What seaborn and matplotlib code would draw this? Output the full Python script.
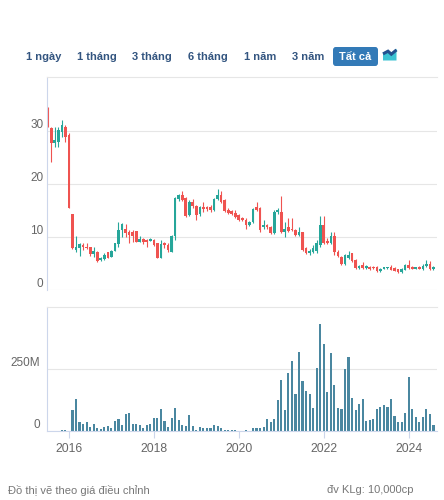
import numpy as np
import pandas as pd
import matplotlib
matplotlib.use("Agg")
import matplotlib.pyplot as plt
from matplotlib.patches import FancyBboxPatch, Polygon
import seaborn as sns

# monthly candles, first one is July 2015 (prices in thousand VND, volume in millions)
start_month = "2015-07-01"
opens = [33.6, 30.5, 27.7, 28.0, 29.9, 30.8, 29.2, 14.3, 7.5, 7.9,
         8.4, 8.2, 8.1, 6.8, 7.2, 5.7, 5.8, 7.1, 6.3, 7.4,
         8.7, 11.4, 11.6, 11.0, 10.9, 11.1, 9.1, 9.6, 9.4, 9.3,
         9.4, 8.8, 6.0, 8.8, 8.4, 7.2, 10.1, 17.1, 17.9, 17.3,
         14.2, 16.7, 15.8, 14.3, 15.7, 15.6, 15.7, 15.1, 17.1, 17.9,
         17.0, 15.1, 14.9, 14.6, 14.1, 13.6, 13.3, 12.3, 12.9, 15.7,
         15.4, 11.8, 12.3, 11.9, 10.7, 14.8, 14.8, 11.0, 11.9, 11.6,
         11.3, 10.4, 10.9, 7.9, 6.9, 7.1, 7.4, 8.5, 12.3, 9.2,
         8.8, 10.1, 7.2, 6.3, 4.9, 6.0, 6.9, 5.7, 4.1, 4.7,
         4.1, 4.4, 4.4, 4.3, 3.5, 4.0, 4.1, 4.3, 4.1, 3.9,
         3.4, 3.8, 4.7, 4.4, 4.0, 4.3, 3.9, 4.5, 4.9, 3.9]
highs = [34.6, 30.8, 30.8, 30.8, 32.1, 31.1, 29.6, 14.3, 10.1, 8.8,
         8.8, 8.8, 8.2, 8.2, 7.4, 6.2, 6.9, 7.2, 7.6, 8.9,
         12.9, 12.6, 12.4, 11.4, 11.3, 11.2, 10.1, 9.9, 9.7, 9.9,
         9.7, 8.9, 9.4, 9.0, 8.8, 10.3, 17.5, 18.1, 18.6, 17.6,
         17.0, 17.2, 16.0, 15.9, 16.7, 15.9, 16.1, 17.3, 19.0, 18.6,
         17.2, 15.4, 15.1, 15.1, 14.3, 13.8, 13.6, 13.1, 15.4, 16.7,
         15.6, 13.3, 12.5, 12.1, 15.1, 15.5, 17.7, 12.9, 13.5, 13.5,
         11.5, 11.8, 11.0, 8.2, 7.7, 8.5, 9.4, 14.0, 14.0, 9.8,
         11.0, 11.0, 7.5, 6.5, 6.8, 7.4, 7.0, 5.8, 4.8, 5.3,
         4.7, 4.6, 4.5, 4.5, 4.2, 4.4, 4.4, 4.8, 4.3, 4.0,
         4.1, 4.9, 5.7, 4.6, 4.4, 4.5, 4.9, 5.7, 5.5, 4.5]
lows = [30.8, 24.2, 26.9, 26.9, 28.9, 28.0, 15.4, 7.7, 7.2, 6.5,
        7.5, 7.7, 6.4, 6.2, 5.2, 5.5, 5.6, 6.0, 6.2, 7.3,
        8.2, 10.0, 10.0, 8.8, 9.1, 9.0, 9.0, 8.7, 8.2, 9.2,
        8.3, 6.0, 6.0, 8.0, 7.2, 7.1, 9.5, 16.8, 16.8, 13.8,
        14.0, 15.5, 13.3, 14.0, 14.8, 15.0, 14.8, 15.0, 16.9, 16.5,
        14.8, 14.4, 14.1, 13.6, 13.1, 13.0, 11.6, 12.1, 12.7, 14.9,
        11.0, 11.6, 11.5, 10.5, 10.5, 14.4, 10.8, 10.0, 11.0, 11.2,
        10.2, 10.2, 7.4, 6.8, 6.7, 7.0, 7.0, 8.2, 8.6, 8.6,
        8.6, 6.6, 6.2, 4.8, 4.8, 5.8, 5.3, 4.0, 3.9, 4.0,
        4.0, 3.8, 3.9, 3.4, 3.4, 3.9, 4.0, 3.7, 3.5, 3.3,
        3.3, 3.7, 4.0, 3.9, 3.9, 3.9, 3.8, 4.4, 3.8, 3.7]
closes = [31.1, 27.7, 28.4, 30.2, 31.1, 28.9, 15.4, 7.9, 8.2, 8.6,
          8.1, 7.9, 6.8, 7.4, 5.5, 6.0, 6.7, 6.1, 7.4, 8.8,
          11.4, 12.5, 10.8, 10.4, 10.1, 9.1, 9.6, 9.1, 9.1, 9.6,
          8.5, 6.1, 8.7, 8.4, 7.5, 10.1, 17.3, 17.9, 17.0, 14.0,
          16.7, 15.8, 14.2, 15.7, 15.2, 15.2, 15.1, 17.1, 17.9, 16.7,
          15.0, 14.6, 14.3, 13.8, 13.3, 13.2, 12.3, 12.9, 15.2, 15.1,
          11.3, 12.3, 11.8, 10.7, 14.8, 15.0, 11.0, 11.6, 11.2, 11.3,
          10.4, 10.9, 7.6, 7.0, 7.4, 7.9, 8.9, 12.3, 8.8, 8.8,
          10.1, 7.2, 6.4, 4.9, 6.6, 6.7, 5.5, 4.1, 4.5, 4.1,
          4.5, 4.0, 4.1, 3.6, 4.0, 4.2, 4.3, 3.8, 3.6, 3.4,
          3.9, 4.7, 4.1, 4.0, 4.3, 4.0, 4.5, 5.0, 3.9, 4.3]
volumes_m = [0, 0, 0, 0, 3, 3, 0, 85, 129, 35,
             28, 35, 15, 27, 12, 8, 16, 19, 12, 39,
             48, 23, 69, 73, 28, 28, 24, 13, 26, 28,
             52, 52, 89, 42, 16, 52, 93, 44, 24, 22,
             65, 20, 5, 15, 13, 11, 12, 23, 20, 12,
             5, 4, 4, 3, 2, 2, 4, 2, 12, 12,
             12, 16, 48, 36, 48, 125, 204, 85, 234, 282,
             148, 317, 202, 161, 148, 93, 253, 431, 351, 157,
             314, 185, 91, 89, 250, 297, 133, 85, 109, 129,
             40, 43, 48, 89, 97, 105, 97, 129, 60, 36,
             36, 73, 218, 89, 56, 36, 56, 89, 69, 24]

year_ticks = [2016, 2018, 2020, 2022, 2024]
price_ticks = [0, 10, 20, 30]
vol_ticks = [0, 250]
vol_tick_labels = ["0", "250M"]
buttons = ["1 ngày", "1 tháng", "3 tháng", "6 tháng", "1 năm", "3 năm"]
active_button = "Tất cả"
note_left = "Đồ thị vẽ theo giá điều chỉnh"
note_right = "đv KLg: 10,000cp"

GREEN = "#26a69a"
RED = "#ef5350"
VOL_BLUE = "#4a87a0"
GRID = "#e6e6e6"
AXIS = "#ccd6eb"
TICK_TXT = "#666666"
BTN_TXT = "#335580"
BTN_BG = "#337ab7"

W, H = 444, 500


def box(left, top, right, bottom):
    # pixel box -> figure fraction
    return [left / W, 1 - bottom / H, (right - left) / W, (bottom - top) / H]


def build_frame():
    df = pd.DataFrame({
        "date": pd.date_range(start_month, periods=len(opens), freq="MS"),
        "open": opens, "high": highs, "low": lows, "close": closes,
        "vol": volumes_m,
    })
    df["idx"] = np.arange(len(df))
    df["up"] = df["close"] >= df["open"]
    return df


def draw_price(ax, df):
    colors = np.where(df["up"], GREEN, RED)
    ax.vlines(df["idx"], df["low"], df["high"], colors=colors, linewidth=0.8)
    body = (df["close"] - df["open"]).abs().clip(lower=0.25)
    bottom = df[["open", "close"]].min(axis=1)
    ax.bar(df["idx"], body, bottom=bottom, width=0.75, color=colors,
           linewidth=0, edgecolor="none")

    ax.set_ylim(0, 40.2)
    ax.set_yticks(price_ticks)
    ax.set_xticks([])
    ax.yaxis.grid(True, color=GRID, linewidth=0.8)
    ax.set_axisbelow(True)
    ax.tick_params(axis="y", length=0, pad=2.5, labelsize=8.5, labelcolor=TICK_TXT)
    for lab in ax.get_yticklabels():
        lab.set_verticalalignment("bottom")


def draw_volume(ax, df):
    sns.barplot(data=df, x="idx", y="vol", native_scale=True, color=VOL_BLUE,
                saturation=1, width=0.6, errorbar=None, linewidth=0,
                edgecolor="none", ax=ax)
    ax.set_ylim(0, 500)
    ax.set_yticks(vol_ticks)
    ax.set_yticklabels(vol_tick_labels)
    ax.yaxis.grid(True, color=GRID, linewidth=0.8)
    ax.set_axisbelow(True)
    ax.set_xlabel("")
    ax.set_ylabel("")

    pos = [df.loc[(df["date"].dt.year == y) & (df["date"].dt.month == 1), "idx"].iloc[0]
           for y in year_ticks]
    ax.set_xticks(pos)
    ax.set_xticklabels([str(y) for y in year_ticks])
    ax.tick_params(axis="x", bottom=True, length=5, width=0.8, color=AXIS, pad=4,
                   labelsize=8.7, labelcolor=TICK_TXT)
    ax.tick_params(axis="y", length=0, pad=5, labelsize=8.5, labelcolor=TICK_TXT)
    for lab in ax.get_yticklabels():
        lab.set_verticalalignment("bottom")


def style_spines(ax, bottom):
    ax.spines["right"].set_visible(False)
    ax.spines["top"].set_color(GRID)
    ax.spines["left"].set_color(AXIS)
    ax.spines["bottom"].set_visible(bottom)
    ax.spines["bottom"].set_color(AXIS)
    for s in ax.spines.values():
        s.set_linewidth(0.8)


def draw_header(fig):
    centers = [44, 97, 152, 208, 260, 308]
    for label, cx in zip(buttons, centers):
        fig.text(cx / W, 1 - 56.5 / H, label, ha="center", va="center",
                 fontsize=8, fontweight="bold", color=BTN_TXT)
    fig.patches.append(FancyBboxPatch((333 / W, 1 - 66 / H), 45 / W, 19 / H,
                                      boxstyle="round,pad=0,rounding_size=0.006",
                                      transform=fig.transFigure, facecolor=BTN_BG,
                                      edgecolor="none"))
    fig.text(355.5 / W, 1 - 56.5 / H, active_button, ha="center", va="center",
             fontsize=8, fontweight="bold", color="white")

    # little area-chart icon
    pts = [(383, 60.5), (383, 52.7), (388, 50), (391.3, 53), (396.5, 48.7), (396.5, 60.5)]
    fig.patches.append(Polygon([(x / W, 1 - y / H) for x, y in pts], closed=True,
                               transform=fig.transFigure, facecolor="#3cc3d3",
                               edgecolor="none"))
    top = pts[1:5]
    fig.lines.append(plt.Line2D([x / W for x, y in top],
                                [1 - (y + 1.2) / H for x, y in top],
                                transform=fig.transFigure, color="#23518f",
                                linewidth=2.2, solid_joinstyle="miter",
                                solid_capstyle="butt"))


def main():
    df = build_frame()

    sns.set_theme(style="white")
    plt.rcParams["font.family"] = ["Liberation Sans", "DejaVu Sans"]

    fig = plt.figure(figsize=(W / 100, H / 100), dpi=100)
    ax_p = fig.add_axes(box(47, 77, 437, 290))
    ax_v = fig.add_axes(box(47, 307, 437, 431))

    draw_price(ax_p, df)
    draw_volume(ax_v, df)
    for ax in (ax_p, ax_v):
        ax.set_xlim(-0.2, 110)
    style_spines(ax_p, bottom=False)
    style_spines(ax_v, bottom=True)

    draw_header(fig)
    fig.text(8 / W, 1 - 490 / H, note_left, ha="left", va="center",
             fontsize=8, color="#777777")
    fig.text(413 / W, 1 - 490 / H, note_right, ha="right", va="center",
             fontsize=8, color="#777777")

    fig.savefig("out.png", dpi=100)


if __name__ == "__main__":
    main()
